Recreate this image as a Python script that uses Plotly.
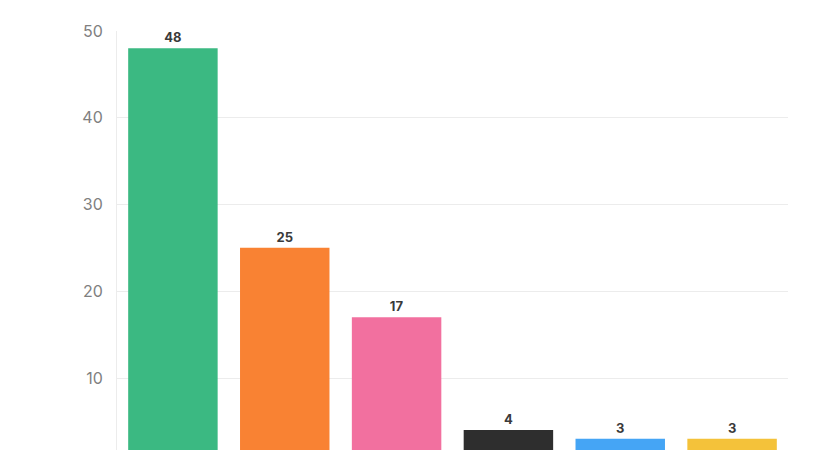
import plotly.graph_objects as go

categories = ["A", "B", "C", "D", "E", "F"]
values = [48, 25, 17, 4, 3, 3]
colors = ["#3BB982", "#F98233", "#F2709F", "#2E2E2E", "#45A5F5", "#F4C23A"]

fig = go.Figure(go.Bar(
    x=categories,
    y=values,
    marker=dict(color=colors, line=dict(width=0)),
    text=[str(v) for v in values],
    textposition="outside",
    textfont=dict(family="Inter", size=13, color="#3a3a3a", weight="bold"),
    cliponaxis=False,
))

fig.update_layout(
    width=817,
    height=442,
    margin=dict(l=109, r=37, t=23, b=0),
    paper_bgcolor="white",
    plot_bgcolor="white",
    bargap=0.2,
    showlegend=False,
    font=dict(family="Inter"),
)
fig.update_yaxes(
    range=[1.7, 50],
    tickvals=[10, 20, 30, 40, 50],
    showgrid=True,
    gridcolor="#ececec",
    gridwidth=1,
    zeroline=False,
    showline=True,
    linecolor="#ececec",
    tickfont=dict(family="Inter", size=16, color="#808080"),
    ticklabelstandoff=10,
)
fig.update_xaxes(showticklabels=False, showgrid=False, showline=False)

fig.write_html("out.html")
